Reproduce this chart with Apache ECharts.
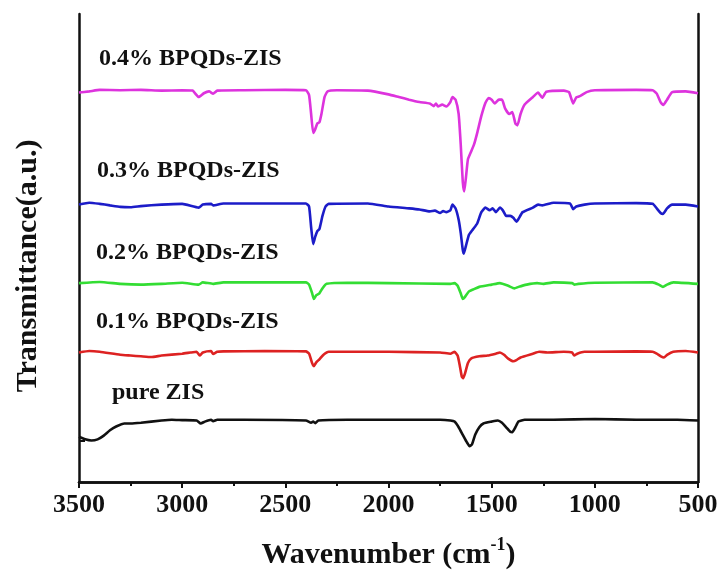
<!DOCTYPE html>
<html><head><meta charset="utf-8">
<script src="https://cdn.jsdelivr.net/npm/echarts@6/dist/echarts.min.js"></script>
<style>html,body{margin:0;padding:0;background:#fff}#c{width:728px;height:585px}</style>
</head><body><div id="c"></div>
<script>
const seriesNames = ['pure ZIS', '0.1% BPQDs-ZIS', '0.2% BPQDs-ZIS', '0.3% BPQDs-ZIS', '0.4% BPQDs-ZIS'];
const seriesColors = ['#111111', '#dd2222', '#33dd33', '#1c1cc8', '#dd33dd'];
const xTicks = [3500, 3000, 2500, 2000, 1500, 1000, 500];

const pureZIS = [[3500,12.0],[3470,11.3],[3440,11.0],[3410,11.3],[3380,12.3],[3350,13.7],[3320,14.7],[3280,15.5],[3250,15.5],[3200,15.7],[3100,16.3],[3050,16.5],[3000,16.4],[2930,16.3],[2910,15.5],[2890,16.0],[2860,16.5],[2850,16.1],[2830,16.5],[2700,16.5],[2400,16.3],[2375,15.7],[2365,16.0],[2355,15.6],[2340,16.3],[2200,16.5],[2000,16.5],[1750,16.5],[1700,16.3],[1680,16.0],[1660,14.5],[1640,12.5],[1620,10.5],[1607,9.5],[1595,10.0],[1580,12.5],[1560,14.5],[1540,15.5],[1500,16.0],[1470,16.3],[1450,15.7],[1430,14.5],[1410,13.3],[1400,13.2],[1385,14.5],[1370,16.0],[1340,16.5],[1200,16.5],[1000,16.7],[800,16.5],[600,16.5],[500,16.3]];

const bp01 = [[3500,34.3],[3450,34.7],[3400,34.5],[3300,33.7],[3250,33.5],[3200,33.3],[3150,33.1],[3100,33.5],[3000,34.0],[2960,34.3],[2930,34.5],[2915,33.5],[2900,34.3],[2860,34.7],[2850,33.9],[2830,34.5],[2800,34.6],[2600,34.7],[2400,34.6],[2385,34.0],[2370,31.5],[2362,30.7],[2350,31.7],[2335,32.5],[2315,33.7],[2290,34.5],[2000,34.5],[1750,34.3],[1700,34.0],[1680,34.5],[1665,33.5],[1655,31.0],[1645,28.0],[1638,27.5],[1628,29.0],[1615,31.5],[1600,32.7],[1560,33.3],[1520,33.5],[1480,34.0],[1460,34.3],[1440,33.7],[1420,32.7],[1395,32.0],[1380,32.3],[1360,33.0],[1300,34.0],[1270,34.5],[1230,34.3],[1150,34.5],[1110,34.3],[1100,33.5],[1085,34.0],[1050,34.5],[1000,34.5],[800,34.6],[720,34.5],[700,34.0],[680,33.3],[665,33.0],[650,33.7],[620,34.5],[560,34.7],[500,34.3]];

const bp02 = [[3500,52.7],[3400,53.0],[3300,52.5],[3200,52.3],[3100,52.5],[3000,52.8],[2920,52.3],[2900,52.9],[2850,52.5],[2800,52.9],[2400,52.9],[2385,52.3],[2370,50.0],[2362,48.5],[2350,49.5],[2335,50.0],[2320,51.3],[2300,52.5],[2200,52.8],[2000,52.7],[1700,52.5],[1680,52.7],[1665,52.0],[1650,50.0],[1640,48.5],[1630,49.0],[1610,50.5],[1590,51.0],[1560,51.7],[1500,52.3],[1460,52.7],[1420,52.0],[1390,51.3],[1370,51.7],[1330,52.3],[1280,52.7],[1250,52.5],[1200,52.9],[1110,52.7],[1100,52.3],[1080,52.5],[1000,52.8],[720,52.9],[690,52.3],[670,51.7],[650,52.3],[620,52.9],[500,52.5]];

const bp03 = [[3500,73.5],[3450,74.0],[3400,73.7],[3350,73.3],[3300,72.9],[3250,72.8],[3200,73.1],[3100,73.5],[3000,73.7],[2920,72.7],[2900,73.5],[2860,73.7],[2850,73.3],[2800,73.8],[2400,73.8],[2385,73.0],[2375,67.5],[2365,63.0],[2355,65.0],[2345,66.5],[2335,67.0],[2320,70.5],[2305,73.0],[2290,73.7],[2100,73.8],[2000,73.0],[1900,72.5],[1850,72.2],[1800,71.7],[1775,71.9],[1750,71.3],[1735,71.8],[1720,71.5],[1700,72.0],[1690,73.5],[1675,72.5],[1660,69.5],[1650,66.0],[1640,61.5],[1635,60.5],[1625,62.5],[1610,65.5],[1590,67.0],[1570,68.5],[1550,71.5],[1530,72.7],[1510,72.0],[1495,72.5],[1480,71.5],[1460,72.7],[1445,71.9],[1430,70.5],[1410,70.5],[1395,70.0],[1380,69.0],[1370,69.7],[1350,71.5],[1300,72.7],[1275,73.5],[1255,73.3],[1200,74.0],[1120,73.8],[1105,72.3],[1090,73.0],[1050,73.5],[1000,73.8],[800,73.9],[720,73.7],[700,72.5],[680,71.2],[670,71.0],[650,72.5],[625,73.5],[560,73.5],[500,73.0]];

const bp04 = [[3500,103.2],[3450,103.5],[3400,103.9],[3300,103.8],[3200,103.9],[3100,103.7],[3000,103.8],[2950,103.7],[2920,102.0],[2895,103.0],[2870,103.5],[2850,102.9],[2830,103.7],[2700,103.8],[2500,103.9],[2400,103.8],[2385,102.5],[2375,97.5],[2365,92.5],[2355,93.5],[2345,95.0],[2335,95.3],[2325,97.5],[2310,102.0],[2295,103.5],[2250,103.8],[2100,103.7],[2000,102.7],[1950,102.0],[1900,101.3],[1850,100.7],[1800,100.3],[1780,99.6],[1770,100.3],[1760,99.5],[1740,100.0],[1720,99.5],[1700,100.7],[1690,102.0],[1675,101.3],[1660,97.5],[1650,89.5],[1640,79.5],[1633,77.0],[1625,80.5],[1615,85.5],[1600,87.5],[1585,89.5],[1570,92.5],[1550,97.0],[1530,100.5],[1515,101.7],[1500,101.3],[1485,100.3],[1465,101.3],[1450,101.3],[1435,99.0],[1415,97.5],[1400,98.0],[1385,95.0],[1375,94.5],[1360,97.5],[1340,100.0],[1300,102.0],[1275,103.2],[1255,101.8],[1235,103.4],[1150,103.7],[1125,103.3],[1105,100.3],[1090,101.9],[1070,102.3],[1040,103.3],[1000,103.8],[800,103.9],[720,103.8],[700,102.9],[680,100.5],[668,99.9],[650,101.3],[625,103.3],[560,103.5],[500,103.0]];

const allData = [pureZIS, bp01, bp02, bp03, bp04];
const yTickValues = [11];

const FONT = "'Liberation Serif', 'Times New Roman', serif";
const chart = echarts.init(document.getElementById('c'), null, {renderer: 'canvas'});

const labelPos = [[112, 393], [96, 322], [96, 253], [97, 171], [99, 59]];

chart.setOption({
  animation: false,
  backgroundColor: '#fff',
  grid: {left: 79, right: 30, top: 14, bottom: 103},
  xAxis: [{
    type: 'value', min: 500, max: 3500, interval: 500, inverse: true,
    name: '{a|Wavenumber (cm}{s|-1}{a|)}', nameLocation: 'middle', nameGap: 54,
    nameTextStyle: {rich: {
      a: {fontFamily: FONT, fontWeight: 'bold', fontSize: 30, color: '#111', verticalAlign: 'bottom', lineHeight: 34},
      s: {fontFamily: FONT, fontWeight: 'bold', fontSize: 18, color: '#111', verticalAlign: 'top', lineHeight: 34}
    }},
    axisLine: {show: true, lineStyle: {color: '#111', width: 2.5}},
    axisTick: {show: true, inside: false, length: 6, lineStyle: {color: '#111', width: 2}},
    minorTick: {show: true, splitNumber: 2, length: 4, lineStyle: {color: '#111', width: 2}},
    splitLine: {show: false},
    axisLabel: {margin: 10, fontFamily: FONT, fontWeight: 'bold', fontSize: 26, color: '#111',
      customValues: xTicks, formatter: v => String(v)}
  }, {
    type: 'value', position: 'top', min: 500, max: 3500, inverse: true,
    axisLine: {show: true, lineStyle: {color: '#111', width: 2.5}},
    axisTick: {show: false}, axisLabel: {show: false}, splitLine: {show: false}
  }],
  yAxis: [{
    type: 'value', min: 0, max: 124,
    name: 'Transmittance(a.u.)', nameLocation: 'middle', nameGap: 36,
    nameTextStyle: {fontFamily: FONT, fontWeight: 'bold', fontSize: 30, color: '#111', padding: [0, 36, 0, 0]},
    axisLine: {show: true, lineStyle: {color: '#111', width: 2.5}},
    axisTick: {show: true, inside: true, length: 6, customValues: yTickValues, lineStyle: {color: '#111', width: 2}},
    axisLabel: {show: false}, splitLine: {show: false}
  }, {
    type: 'value', position: 'right', min: 0, max: 124,
    axisLine: {show: true, lineStyle: {color: '#111', width: 2.5}},
    axisTick: {show: false}, axisLabel: {show: false}, splitLine: {show: false}
  }],
  series: allData.map((d, i) => ({
    name: seriesNames[i], type: 'line', data: d, showSymbol: false, smooth: 0.15,
    lineStyle: {color: seriesColors[i], width: 2.6}, itemStyle: {color: seriesColors[i]}, z: 3
  })),
  graphic: seriesNames.map((n, i) => ({
    type: 'text', left: labelPos[i][0], top: labelPos[i][1] - 12,
    style: {text: n, fontFamily: FONT, fontWeight: 'bold', fontSize: 24, fill: '#111'}
  }))
});
</script></body></html>
